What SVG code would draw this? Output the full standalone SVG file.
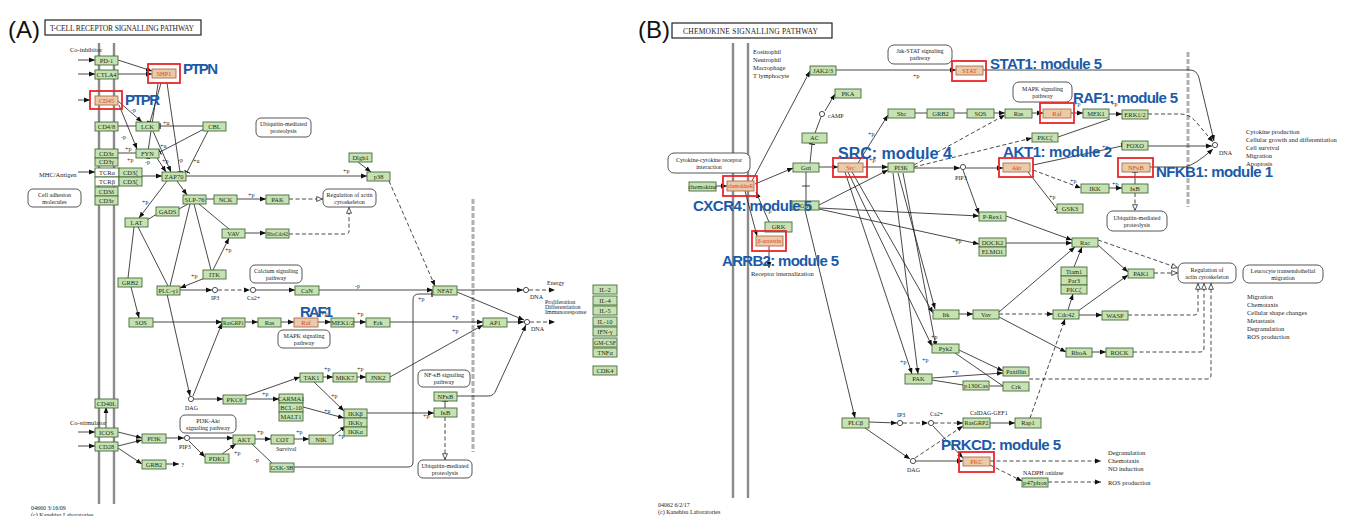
<svg xmlns="http://www.w3.org/2000/svg" width="1346" height="516" viewBox="0 0 1346 516">
<defs>
<style>
.n rect{fill:#c6e2b2;stroke:#466b3a;stroke-width:.9}
.n text{font-family:"Liberation Serif",serif;font-size:6.5px;fill:#1d2d14;text-anchor:middle}
.w rect{fill:#fff}
.hl rect.o{fill:none;stroke:#e8262a;stroke-width:1.8}
.hl rect.i{fill:#e8cba8;stroke:#b76b4a}
.hl text{fill:#e0441c}
.pw rect{fill:#fff;stroke:#444;stroke-width:.9}
.pw text{font-family:"Liberation Serif",serif;font-size:6px;fill:#222;text-anchor:middle}
.lb{font-family:"Liberation Sans",Arial,sans-serif;font-weight:bold;font-size:15px;fill:#1c5aa8}
.big{font-family:"Liberation Sans",Arial,sans-serif;font-size:24px;fill:#111}
.tx{font-family:"Liberation Serif",serif;font-size:6.5px;fill:#222}
.sm,.sm text{font-family:"Liberation Serif",serif;font-size:6px;fill:#222}
.ttl rect{fill:#fff;stroke:#222;stroke-width:1.2}
.ttl text{font-family:"Liberation Serif",serif;font-size:7.5px;fill:#222}
.e path{fill:none;stroke:#1a1a1a;stroke-width:.8}
.e .d{stroke-dasharray:4 2.5}
.e .a{marker-end:url(#ma)}
.e .o{marker-end:url(#mo)}
.e .t{marker-end:url(#mt)}
.mem{stroke:#8a8a8a;stroke-width:2.4}
.gd{stroke:#b0b0b0;stroke-width:3;stroke-dasharray:5 2}
.c{fill:#fff;stroke:#222;stroke-width:.8}
</style>
<marker id="ma" viewBox="0 0 10 10" refX="10" refY="5" markerWidth="6" markerHeight="6" orient="auto" markerUnits="userSpaceOnUse"><path d="M0,1L10,5L0,9z" fill="#111"/></marker>
<marker id="mo" viewBox="0 0 10 10" refX="10" refY="5" markerWidth="7" markerHeight="7" orient="auto" markerUnits="userSpaceOnUse"><path d="M1,1.5L9,5L1,8.5z" fill="#fff" stroke="#222" stroke-width="1.1"/></marker>
<marker id="mt" viewBox="0 0 4 10" refX="3" refY="5" markerWidth="2.4" markerHeight="7" orient="auto" markerUnits="userSpaceOnUse"><path d="M3,0V10" stroke="#111" stroke-width="2"/></marker>
</defs>
<rect width="1346" height="516" fill="#fff"/>

<!-- ================= PANEL A ================= -->
<text class="big" x="8" y="38">(A)</text>
<g class="ttl" id="titleA"><rect x="45" y="20" width="156" height="15"/><text x="50" y="31" textLength="144">T-CELL RECEPTOR SIGNALLING PATHWAY</text></g>
<line class="mem" x1="99" y1="43" x2="99" y2="504"/>
<line class="mem" x1="114" y1="43" x2="114" y2="504"/>
<line class="gd" x1="473" y1="199" x2="473" y2="452"/>

<text class="tx" x="70" y="52">Co-inhibitor</text>
<text class="tx" x="39" y="177">MHC/Antigen</text>
<text class="tx" x="70" y="425">Co-stimulator</text>
<text class="sm" x="211" y="300">IP3</text>
<text class="sm" x="247" y="300">Ca2+</text>
<text class="sm" x="185" y="410">DAG</text>
<text class="sm" x="179" y="449">PIP3</text>
<text class="sm" x="530" y="299">DNA</text>
<text class="sm" x="531" y="331">DNA</text>
<text class="sm" x="547" y="285">Energy</text>
<text class="sm" x="545" y="304">Proliferation</text>
<text class="sm" x="545" y="309">Differentiation</text>
<text class="sm" x="545" y="314">Immunoresponse</text>
<text class="sm" x="276" y="451">Survival</text>
<text class="tx" x="181" y="467">?</text>
<text class="sm" x="31" y="510">04660 3/16/09</text>
<text class="sm" x="31" y="517">(c) Kanehisa Laboratories</text>

<g class="sm" id="plabA">
<text x="131" y="112">-p</text><text x="121" y="139">-p</text><text x="163" y="125">+u</text><text x="160" y="148">+u</text>
<text x="193" y="163">+u</text><text x="178" y="162">-p</text><text x="162" y="163">+p</text><text x="125" y="151">+p</text>
<text x="127" y="162">+p</text><text x="145" y="164">-p</text><text x="343" y="173">+p</text><text x="142" y="204">+p</text>
<text x="248" y="197">+p</text><text x="225" y="252">+p</text><text x="191" y="278">+p</text><text x="355" y="288">-p</text>
<text x="321" y="316">+p</text><text x="357" y="316">+p</text><text x="452" y="319">+p</text><text x="452" y="333">+p</text>
<text x="418" y="301">+p</text><text x="262" y="396">+p</text><text x="324" y="371">+p</text><text x="357" y="371">+p</text>
<text x="331" y="398">+p</text><text x="324" y="413">+u</text><text x="338" y="438">+p</text><text x="423" y="418">+p</text>
<text x="234" y="455">+p</text><text x="257" y="434">+p</text><text x="296" y="434">+p</text><text x="254" y="462">-p</text>
</g>

<g class="e" id="edgesA">
<path class="a" d="M78,60H95"/><path class="a" d="M78,74H95"/><path class="a" d="M78,100H90"/>
<path class="a" d="M78,172H95"/><path class="a" d="M78,432H95"/><path class="a" d="M78,446H95"/>
<path class="a" d="M118,60L152,71"/><path class="a" d="M118,74H152"/>
<path class="a" d="M118,101L142,122"/><path class="a" d="M119,105L137,149"/>
<path d="M118,126H136"/>
<path class="t" d="M203,126H160"/><path class="t" d="M204,129L160,152"/><path class="t" d="M208,131L187,172"/>
<path class="t" d="M161,83L150,122"/><path class="t" d="M167,83L180,172"/><path class="t" d="M158,84L147,158"/>
<path class="a" d="M153,131L171,172"/><path d="M118,153H136"/>
<path class="a" d="M142,176H162"/><path class="a" d="M157,158L166,172"/>
<path class="a" d="M186,176H367"/><path class="a" d="M358,162L371,172"/>
<path class="a" d="M177,181L187,195"/><path class="a" d="M167,181L139,218"/>
<path d="M147,220L157,214"/><path d="M179,209L188,204"/>
<path d="M206,199H214"/><path class="a" d="M237,199H266"/>
<path class="d o" d="M289,199H323"/>
<path d="M199,204L229,229"/><path class="a" d="M245,233H266"/>
<path class="d o" d="M289,234H346Q349,234 349,231V207"/>
<path class="a" d="M213,270L229,238"/>
<path d="M194,204L211,270"/><path d="M190,204L170,286"/>
<path d="M138,227L168,286"/><path d="M134,227L128,278"/>
<path class="a" d="M205,278L180,288"/>
<path class="a" d="M180,290H212"/><path class="d a" d="M218,290H250"/><path class="a" d="M256,290H295"/>
<path class="a" d="M319,290H433"/>
<path class="a" d="M167,294L190,396"/><path class="a" d="M193,396L222,323"/>
<path class="a" d="M131,287L139,318"/><path class="a" d="M153,322H222"/>
<path class="a" d="M245,322H258"/><path class="a" d="M281,322H294"/><path class="a" d="M318,322H331"/><path class="a" d="M354,322H366"/>
<path class="a" d="M390,322H483"/><path class="a" d="M390,377L483,325"/>
<path class="d a" d="M389,181L435,286"/>
<path class="a" d="M457,290H523"/><path class="d a" d="M529,290H555"/>
<path class="a" d="M457,292L524,320"/><path class="a" d="M507,322H524"/>
<path class="a" d="M457,396H488Q494,396 496,390L526,325"/>
<path class="d a" d="M530,322H555"/>
<path class="t" d="M294,467H408Q413,467 413,462V300Q413,294 419,294H432"/>
<path class="a" d="M194,399H223"/>
<path class="a" d="M246,396L300,377"/><path class="a" d="M246,399H279"/>
<path class="a" d="M323,377H333"/><path class="a" d="M357,377H366"/>
<path class="a" d="M313,381L344,411"/><path class="a" d="M303,407L344,418"/><path class="a" d="M333,436L346,426"/>
<path class="a" d="M367,413H434"/>
<path class="t" d="M445,408V401"/>
<path class="d o" d="M445,417V460"/>
<path class="a" d="M106,428V407"/>
<path class="a" d="M118,432L142,438"/><path class="a" d="M118,446L142,440"/><path class="a" d="M118,448L142,464"/>
<path class="a" d="M166,464H179"/>
<path class="a" d="M166,438H184"/><path class="a" d="M190,438H233"/><path class="a" d="M189,441L205,457"/>
<path class="a" d="M222,454L236,444"/>
<path class="a" d="M255,439H271"/><path class="a" d="M294,439H309"/>
<path d="M252,444L272,463"/>
</g>

<circle class="c" cx="215" cy="290" r="2.6"/><circle class="c" cx="253" cy="290" r="2.6"/>
<circle class="c" cx="191" cy="399" r="2.6"/><circle class="c" cx="187" cy="438" r="2.6"/>
<circle class="c" cx="526" cy="290" r="2.6"/><circle class="c" cx="527" cy="322" r="2.6"/>

<g class="pw" id="pUbq1"><rect x="256" y="118" width="55" height="19" rx="5"/><text x="283.5" y="126">Ubiquitin-mediated</text><text x="283.5" y="133">proteolysis</text></g>
<g class="pw" id="pReg1"><rect x="323" y="189" width="53" height="18" rx="5"/><text x="349.5" y="197">Regulation of actin</text><text x="349.5" y="204">cytoskeleton</text></g>
<g class="pw" id="pCam"><rect x="28" y="189" width="53" height="18" rx="5"/><text x="54.5" y="197">Cell adhesion</text><text x="54.5" y="204">molecules</text></g>
<g class="pw" id="pCa"><rect x="250" y="265" width="52" height="18" rx="5"/><text x="276" y="273">Calcium signaling</text><text x="276" y="280">pathway</text></g>
<g class="pw" id="pMapk1"><rect x="278" y="330" width="52" height="18" rx="5"/><text x="304" y="338">MAPK signaling</text><text x="304" y="345">pathway</text></g>
<g class="pw" id="pPi3k"><rect x="180" y="415" width="56" height="18" rx="5"/><text x="208" y="423">PI3K-Akt</text><text x="208" y="430">signaling pathway</text></g>
<g class="pw" id="pNfkb"><rect x="418" y="370" width="52" height="17" rx="5"/><text x="444" y="377">NF-κB signaling</text><text x="444" y="384">pathway</text></g>
<g class="pw" id="pUbq2"><rect x="418" y="460" width="54" height="18" rx="5"/><text x="445" y="468">Ubiquitin-mediated</text><text x="445" y="475">proteolysis</text></g>

<g id="A_PD1" class="n"><rect x="95" y="56" width="23" height="9"/><text x="106.5" y="62.8">PD-1</text></g>
<g id="A_CTLA4" class="n"><rect x="95" y="70" width="23" height="9"/><text x="106.5" y="76.8">CTLA4</text></g>
<g id="A_SHP1" class="n hl"><rect class="o" x="148" y="64" width="32" height="19"/><rect class="i" x="152" y="69" width="24" height="9"/><text x="164" y="75.8">SHP1</text></g>
<g id="A_CD45" class="n hl"><rect class="o" x="90" y="91" width="32" height="18"/><rect class="i" x="95" y="96" width="23" height="9"/><text x="106.5" y="102.8">CD45</text></g>
<g id="A_CD48" class="n"><rect x="95" y="122" width="23" height="9"/><text x="106.5" y="128.8">CD4/8</text></g>
<g id="A_LCK" class="n"><rect x="136" y="122" width="23" height="9"/><text x="147.5" y="128.8">LCK</text></g>
<g id="A_CBL" class="n"><rect x="203" y="122" width="23" height="9"/><text x="214.5" y="128.8">CBL</text></g>
<g id="A_CD3e1" class="n"><rect x="95" y="149" width="23" height="9"/><text x="106.5" y="155.8">CD3ε</text></g>
<g id="A_CD3g" class="n"><rect x="95" y="158" width="23" height="8"/><text x="106.5" y="164.3">CD3γ</text></g>
<g id="A_FYN" class="n"><rect x="136" y="149" width="23" height="9"/><text x="147.5" y="155.8">FYN</text></g>
<g id="A_TCRa" class="n w"><rect x="95" y="168" width="24" height="9"/><text x="107" y="174.8">TCRα</text></g>
<g id="A_TCRb" class="n w"><rect x="95" y="177" width="24" height="9"/><text x="107" y="183.8">TCRβ</text></g>
<g id="A_CD3z1" class="n"><rect x="119" y="168" width="23" height="9"/><text x="130.5" y="174.8">CD3ζ</text></g>
<g id="A_CD3z2" class="n"><rect x="119" y="177" width="23" height="9"/><text x="130.5" y="183.8">CD3ζ</text></g>
<g id="A_ZAP70" class="n"><rect x="162" y="172" width="24" height="9"/><text x="174" y="178.8">ZAP70</text></g>
<g id="A_CD3d" class="n"><rect x="95" y="187" width="23" height="9"/><text x="106.5" y="193.8">CD3δ</text></g>
<g id="A_CD3e2" class="n"><rect x="95" y="196" width="23" height="9"/><text x="106.5" y="202.8">CD3ε</text></g>
<g id="A_SLP76" class="n"><rect x="183" y="195" width="23" height="9"/><text x="194.5" y="201.8">SLP-76</text></g>
<g id="A_NCK" class="n"><rect x="214" y="195" width="23" height="9"/><text x="225.5" y="201.8">NCK</text></g>
<g id="A_PAK" class="n"><rect x="266" y="195" width="23" height="9"/><text x="277.5" y="201.8">PAK</text></g>
<g id="A_GADS" class="n"><rect x="156" y="207" width="23" height="9"/><text x="167.5" y="213.8">GADS</text></g>
<g id="A_LAT" class="n"><rect x="125" y="218" width="23" height="9"/><text x="136.5" y="224.8">LAT</text></g>
<g id="A_DLGH1" class="n"><rect x="349" y="153" width="23" height="9"/><text x="360.5" y="159.8">Dlgh1</text></g>
<g id="A_P38" class="n"><rect x="367" y="172" width="23" height="9"/><text x="378.5" y="178.8">p38</text></g>
<g id="A_VAV" class="n"><rect x="222" y="229" width="23" height="9"/><text x="233.5" y="235.8">VAV</text></g>
<g id="A_RHO" class="n"><rect x="266" y="229" width="23" height="9"/><text x="277.5" y="235.8" textLength="21" lengthAdjust="spacingAndGlyphs">RhoCdc42</text></g>
<g id="A_ITK" class="n"><rect x="203" y="270" width="23" height="9"/><text x="214.5" y="276.8">ITK</text></g>
<g id="A_GRB2" class="n"><rect x="118" y="278" width="24" height="9"/><text x="130" y="284.8">GRB2</text></g>
<g id="A_PLCG" class="n"><rect x="157" y="286" width="23" height="9"/><text x="168.5" y="292.8">PLC-γ1</text></g>
<g id="A_CAN" class="n"><rect x="295" y="286" width="24" height="9"/><text x="307" y="292.8">CaN</text></g>
<g id="A_SOS" class="n"><rect x="129" y="318" width="24" height="9"/><text x="141" y="324.8">SOS</text></g>
<g id="A_RASGRP1" class="n"><rect x="222" y="318" width="23" height="9"/><text x="233.5" y="324.8" textLength="21" lengthAdjust="spacingAndGlyphs">RasGRP1</text></g>
<g id="A_RAS" class="n"><rect x="258" y="318" width="23" height="9"/><text x="269.5" y="324.8">Ras</text></g>
<g id="A_RAF" class="n hl"><rect class="i" x="294" y="318" width="24" height="9"/><text x="306" y="324.8">Raf</text></g>
<g id="A_MEK" class="n"><rect x="331" y="318" width="23" height="9"/><text x="342.5" y="324.8">MEK1/2</text></g>
<g id="A_ERK" class="n"><rect x="366" y="318" width="24" height="9"/><text x="378" y="324.8">Erk</text></g>
<g id="A_NFAT" class="n"><rect x="433" y="286" width="24" height="9"/><text x="445" y="292.8">NFAT</text></g>
<g id="A_AP1" class="n"><rect x="483" y="318" width="24" height="9"/><text x="495" y="324.8">AP1</text></g>
<g id="A_IL2" class="n"><rect x="593" y="285" width="24" height="9"/><text x="605" y="291.8">IL-2</text></g>
<g id="A_IL4" class="n"><rect x="593" y="296" width="24" height="9"/><text x="605" y="302.8">IL-4</text></g>
<g id="A_IL5" class="n"><rect x="593" y="306" width="24" height="9"/><text x="605" y="312.8">IL-5</text></g>
<g id="A_IL10" class="n"><rect x="593" y="317" width="24" height="9"/><text x="605" y="323.8">IL-10</text></g>
<g id="A_IFNG" class="n"><rect x="593" y="327" width="24" height="9"/><text x="605" y="333.8">IFN-γ</text></g>
<g id="A_GMCSF" class="n"><rect x="593" y="338" width="24" height="9"/><text x="605" y="344.8" textLength="22" lengthAdjust="spacingAndGlyphs">GM-CSF</text></g>
<g id="A_TNFA" class="n"><rect x="593" y="348" width="24" height="9"/><text x="605" y="354.8">TNFα</text></g>
<g id="A_CDK4" class="n"><rect x="593" y="366" width="24" height="9"/><text x="605" y="372.8">CDK4</text></g>
<g id="A_PKCT" class="n"><rect x="223" y="395" width="23" height="9"/><text x="234.5" y="401.8">PKCθ</text></g>
<g id="A_TAK1" class="n"><rect x="300" y="373" width="23" height="9"/><text x="311.5" y="379.8">TAK1</text></g>
<g id="A_MKK7" class="n"><rect x="333" y="373" width="24" height="9"/><text x="345" y="379.8">MKK7</text></g>
<g id="A_JNK2" class="n"><rect x="366" y="373" width="24" height="9"/><text x="378" y="379.8">JNK2</text></g>
<g id="A_CARMA1" class="n"><rect x="279" y="394" width="24" height="9"/><text x="291" y="400.8">CARMA1</text></g>
<g id="A_BCL10" class="n"><rect x="279" y="403" width="24" height="9"/><text x="291" y="409.8">BCL-10</text></g>
<g id="A_MALT1" class="n"><rect x="279" y="412" width="24" height="9"/><text x="291" y="418.8">MALT1</text></g>
<g id="A_IKKB" class="n"><rect x="344" y="409" width="23" height="9"/><text x="355.5" y="415.8">IKKβ</text></g>
<g id="A_IKKG" class="n"><rect x="344" y="418" width="23" height="9"/><text x="355.5" y="424.8">IKKγ</text></g>
<g id="A_IKKA" class="n"><rect x="344" y="427" width="23" height="9"/><text x="355.5" y="433.8">IKKα</text></g>
<g id="A_NFKB" class="n"><rect x="434" y="392" width="23" height="9"/><text x="445.5" y="398.8">NFκB</text></g>
<g id="A_IKB" class="n"><rect x="434" y="408" width="23" height="9"/><text x="445.5" y="414.8">IκB</text></g>
<g id="A_CD40L" class="n"><rect x="95" y="399" width="23" height="9"/><text x="106.5" y="405.8">CD40L</text></g>
<g id="A_ICOS" class="n"><rect x="95" y="428" width="23" height="9"/><text x="106.5" y="434.8">ICOS</text></g>
<g id="A_CD28" class="n"><rect x="95" y="442" width="23" height="9"/><text x="106.5" y="448.8">CD28</text></g>
<g id="A_PI3K" class="n"><rect x="142" y="434" width="24" height="9"/><text x="154" y="440.8">PI3K</text></g>
<g id="A_AKT" class="n"><rect x="233" y="435" width="22" height="9"/><text x="244" y="441.8">AKT</text></g>
<g id="A_PDK1" class="n"><rect x="205" y="454" width="24" height="9"/><text x="217" y="460.8">PDK1</text></g>
<g id="A_COT" class="n"><rect x="271" y="435" width="23" height="9"/><text x="282.5" y="441.8">COT</text></g>
<g id="A_NIK" class="n"><rect x="309" y="435" width="24" height="9"/><text x="321" y="441.8">NIK</text></g>
<g id="A_GSK3B" class="n"><rect x="270" y="463" width="24" height="9"/><text x="282" y="469.8">GSK-3B</text></g>
<g id="A_GRB2b" class="n"><rect x="142" y="460" width="24" height="9"/><text x="154" y="466.8">GRB2</text></g>

<text class="lb" x="183" y="74" textLength="35">PTPN</text>
<text class="lb" x="125" y="105" textLength="35">PTPR</text>
<text class="lb" x="300" y="317" textLength="33">RAF1</text>

<!-- ================= PANEL B ================= -->
<text class="big" x="638" y="38">(B)</text>
<g class="ttl" id="titleB"><rect x="672" y="23" width="160" height="15"/><text x="683" y="34" textLength="135">CHEMOKINE SIGNALLING PATHWAY</text></g>
<line class="mem" x1="733" y1="43" x2="733" y2="498"/>
<line class="mem" x1="748" y1="43" x2="748" y2="498"/>
<line class="gd" x1="1188" y1="52" x2="1188" y2="207"/>

<text class="tx" x="753" y="54">Eosinophil</text>
<text class="tx" x="753" y="62">Neutrophil</text>
<text class="tx" x="753" y="70">Macrophage</text>
<text class="tx" x="753" y="78">T lymphocyte</text>
<text class="sm" x="828" y="118">cAMP</text>
<text class="sm" x="955" y="180">PIP3</text>
<text class="sm" x="1219" y="155">DNA</text>
<text class="tx" x="1246" y="134">Cytokine production</text>
<text class="tx" x="1246" y="142">Cellular growth and differentiation</text>
<text class="tx" x="1246" y="150">Cell survival</text>
<text class="tx" x="1246" y="158">Migration</text>
<text class="tx" x="1246" y="166">Apoptosis</text>
<text class="tx" x="1247" y="299">Migration</text>
<text class="tx" x="1247" y="307">Chemotaxis</text>
<text class="tx" x="1247" y="315">Cellular shape changes</text>
<text class="tx" x="1247" y="323">Metastasis</text>
<text class="tx" x="1247" y="331">Degranulation</text>
<text class="tx" x="1247" y="339">ROS production</text>
<text class="tx" x="751" y="276">Receptor internalization</text>
<text class="sm" x="897" y="417">IP3</text>
<text class="sm" x="930" y="416">Ca2+</text>
<text class="sm" x="907" y="472">DAG</text>
<text class="sm" x="970" y="415">CalDAG-GEF1</text>
<text class="sm" x="1023" y="475">NADPH oxidase</text>
<text class="tx" x="1108" y="455">Degranulation</text>
<text class="tx" x="1108" y="463">Chemotaxis</text>
<text class="tx" x="1108" y="471">NO induction</text>
<text class="tx" x="1108" y="485">ROS production</text>
<text class="sm" x="658" y="507">04062 6/2/17</text>
<text class="sm" x="658" y="514">(c) Kanehisa Laboratories</text>

<g class="sm" id="plabB">
<text x="765" y="213">+p</text><text x="913" y="78">+p</text><text x="868" y="136">+p</text><text x="869" y="162">+p</text>
<text x="1074" y="106">+p</text><text x="1111" y="106">+p</text><text x="1102" y="149">+p</text><text x="1070" y="183">+p</text>
<text x="1049" y="199">+p</text><text x="1112" y="186">+p</text><text x="955" y="243">+p</text><text x="931" y="339">+p</text>
<text x="900" y="364">+p</text><text x="922" y="362">+p</text><text x="952" y="374">+p</text>
</g>

<g class="e" id="edgesB">
<path class="a" d="M716,186H727"/>
<path class="a" d="M752,181L810,71"/>
<path class="a" d="M755,184L793,168"/>
<path class="a" d="M769,222L756,192"/>
<path class="a" d="M745,191L757,236"/>
<path class="a" d="M769,246V268"/>
<path class="a" d="M836,70H956"/>
<path class="a" d="M983,70H1190Q1197,70 1199,78L1214,141"/>
<path class="t" d="M810,163L812,144"/>
<path d="M815,133L821,117"/><path class="a" d="M825,111L835,94"/>
<path class="a" d="M819,167H838"/>
<path d="M806,172V201"/><path d="M802,186H810"/>
<path class="a" d="M819,205L888,170"/>
<path class="a" d="M819,208L979,216"/>
<path class="a" d="M805,210L855,418"/>
<path class="a" d="M819,209L979,244"/>
<path class="a" d="M858,163L888,115"/>
<path class="a" d="M863,167H888"/>
<path class="a" d="M852,172L933,313"/><path class="a" d="M848,172L932,346"/><path class="a" d="M845,172L912,374"/>
<path class="a" d="M898,173L935,309"/><path class="a" d="M893,173L918,374"/><path class="a" d="M903,173L936,347"/>
<path class="a" d="M914,168H960"/><path class="a" d="M966,168H1003"/>
<path class="d a" d="M914,165L1005,115"/><path class="d a" d="M914,167L1032,138"/>
<path d="M915,113H927"/><path d="M954,113H967"/><path class="a" d="M994,113H1005"/>
<path class="a" d="M1032,113H1043"/><path class="a" d="M1071,113H1083"/><path class="a" d="M1109,114H1122"/>
<path class="d a" d="M1148,114H1180Q1190,114 1197,123L1213,142"/>
<path d="M1058,137L1110,119"/>
<path class="d a" d="M1033,170L1081,188"/>
<path class="t" d="M1028,172L1057,209"/>
<path class="t" d="M1033,165L1122,146"/>
<path class="a" d="M1148,146H1212"/>
<path class="a" d="M1150,167H1185Q1195,165 1213,149"/>
<path class="a" d="M1109,188H1122"/>
<path class="t" d="M1135,184V172"/>
<path class="d o" d="M1135,193V211"/>
<path class="a" d="M963,170L979,214"/>
<path class="a" d="M1006,216L1072,240"/>
<path class="a" d="M1006,243H1072"/>
<path class="a" d="M1098,245L1128,272"/>
<path class="a" d="M1074,267L1082,247"/>
<path class="d o" d="M1098,240L1178,268"/>
<path class="d o" d="M1154,273H1178"/>
<path class="a" d="M1068,310L1073,294"/>
<path class="a" d="M1078,311L1128,275"/>
<path class="a" d="M999,312L1075,247"/>
<path class="d a" d="M999,314H1053"/>
<path class="a" d="M999,317L1066,352"/>
<path class="a" d="M959,314H973"/>
<path class="a" d="M1079,315H1102"/>
<path class="d o" d="M1128,315H1194Q1198,315 1198,311V283"/>
<path class="a" d="M1092,352H1106"/>
<path class="d o" d="M1133,352H1200Q1204,352 1204,348V283"/>
<path class="d o" d="M1029,379H1207Q1211,379 1211,375V283"/>
<path class="a" d="M959,350L1003,371"/><path d="M955,353L1003,386"/>
<path class="a" d="M932,378L1003,373"/>
<path d="M932,380L963,385"/><path d="M989,386H1003"/>
<path class="a" d="M869,422L897,423"/>
<path class="d a" d="M903,423H928"/>
<path class="d a" d="M934,423H963"/>
<path class="a" d="M865,428L910,459"/>
<path class="d a" d="M915,458L963,426"/>
<path class="a" d="M916,461H963"/>
<path class="a" d="M933,426L963,458"/>
<path class="a" d="M990,423H1015"/>
<path class="d a" d="M1030,418L1065,319"/>
<path class="d a" d="M990,461H1101"/>
<path class="d a" d="M990,465L1022,481"/>
<path class="d a" d="M1048,482H1101"/>
</g>

<circle class="c" cx="822" cy="114" r="2.6"/><circle class="c" cx="963" cy="167" r="2.6"/>
<circle class="c" cx="1215" cy="145" r="2.6"/><circle class="c" cx="900" cy="423" r="2.6"/>
<circle class="c" cx="931" cy="423" r="2.6"/><circle class="c" cx="913" cy="461" r="2.6"/>

<g class="pw" id="pCyt"><rect x="668" y="153" width="82" height="20" rx="6"/><text x="709" y="162">Cytokine-cytokine receptor</text><text x="709" y="169">interaction</text></g>
<g class="pw" id="pJak"><rect x="888" y="45" width="64" height="19" rx="6"/><text x="920" y="53">Jak-STAT signaling</text><text x="920" y="60">pathway</text></g>
<g class="pw" id="pMapk2"><rect x="1013" y="82" width="59" height="20" rx="6"/><text x="1042.5" y="91">MAPK signaling</text><text x="1042.5" y="98">pathway</text></g>
<g class="pw" id="pUbq3"><rect x="1107" y="211" width="60" height="20" rx="6"/><text x="1137" y="220">Ubiquitin-mediated</text><text x="1137" y="227">proteolysis</text></g>
<g class="pw" id="pReg2"><rect x="1178" y="263" width="58" height="20" rx="6"/><text x="1207" y="272">Regulation of</text><text x="1207" y="279">actin cytoskeleton</text></g>
<g class="pw" id="pLeu"><rect x="1243" y="265" width="80" height="18" rx="6"/><text x="1283" y="273">Leucocyte transendothelial</text><text x="1283" y="280">migration</text></g>

<g id="B_JAK" class="n"><rect x="810" y="66" width="26" height="9"/><text x="823" y="72.8">JAK2/3</text></g>
<g id="B_PKA" class="n"><rect x="835" y="89" width="26" height="9"/><text x="848" y="95.8">PKA</text></g>
<g id="B_AC" class="n"><rect x="802" y="133" width="25" height="10"/><text x="814.5" y="140.3">AC</text></g>
<g id="B_GAI" class="n"><rect x="793" y="163" width="26" height="9"/><text x="806" y="169.8">Gαi</text></g>
<g id="B_SRC" class="n hl"><rect class="o" x="833" y="158" width="34" height="19"/><rect class="i" x="838" y="163" width="25" height="9"/><text x="850.5" y="169.8">Src</text></g>
<g id="B_CHEM" class="n"><rect x="689" y="182" width="27" height="9"/><text x="702.5" y="188.8">chemokine</text></g>
<g id="B_CXCR4" class="n hl"><rect class="o" x="723" y="176" width="34" height="20"/><rect class="i" x="727" y="181" width="27" height="10"/><text x="740.5" y="188.3" textLength="25" lengthAdjust="spacingAndGlyphs">chemokineR</text></g>
<g id="B_GBG" class="n"><rect x="792" y="201" width="27" height="9"/><text x="805.5" y="207.8">Gβγ</text></g>
<g id="B_GRK" class="n"><rect x="765" y="222" width="27" height="10"/><text x="778.5" y="229.3">GRK</text></g>
<g id="B_ARRB" class="n hl"><rect class="o" x="752" y="231" width="34" height="20"/><rect class="i" x="756" y="236" width="27" height="10"/><text x="769.5" y="243.3" textLength="24" lengthAdjust="spacingAndGlyphs">β-arrestin</text></g>
<g id="B_STAT" class="n hl"><rect class="o" x="952" y="61" width="34" height="20"/><rect class="i" x="956" y="66" width="27" height="9"/><text x="969.5" y="72.8">STAT</text></g>
<g id="B_SHC" class="n"><rect x="888" y="109" width="27" height="9"/><text x="901.5" y="115.8">Shc</text></g>
<g id="B_GRB2" class="n"><rect x="927" y="109" width="27" height="9"/><text x="940.5" y="115.8">GRB2</text></g>
<g id="B_SOS" class="n"><rect x="967" y="109" width="27" height="9"/><text x="980.5" y="115.8">SOS</text></g>
<g id="B_RAS" class="n"><rect x="1005" y="109" width="27" height="9"/><text x="1018.5" y="115.8">Ras</text></g>
<g id="B_RAF" class="n hl"><rect class="o" x="1040" y="103" width="34" height="20"/><rect class="i" x="1043" y="109" width="28" height="9"/><text x="1057" y="115.8">Raf</text></g>
<g id="B_MEK" class="n"><rect x="1083" y="109" width="26" height="9"/><text x="1096" y="115.8">MEK1</text></g>
<g id="B_ERK" class="n"><rect x="1122" y="110" width="26" height="9"/><text x="1135" y="116.8">ERK1/2</text></g>
<g id="B_PKCZ" class="n"><rect x="1032" y="133" width="26" height="9"/><text x="1045" y="139.8">PKCζ</text></g>
<g id="B_PI3K" class="n"><rect x="888" y="163" width="26" height="9"/><text x="901" y="169.8">PI3K</text></g>
<g id="B_AKT" class="n hl"><rect class="o" x="999" y="158" width="34" height="19"/><rect class="i" x="1003" y="163" width="27" height="9"/><text x="1016.5" y="169.8">Akt</text></g>
<g id="B_IKK" class="n"><rect x="1081" y="184" width="28" height="9"/><text x="1095" y="190.8">IKK</text></g>
<g id="B_GSK3" class="n"><rect x="1057" y="204" width="26" height="9"/><text x="1070" y="210.8">GSK3</text></g>
<g id="B_PREX" class="n"><rect x="979" y="212" width="27" height="9"/><text x="992.5" y="218.8">P-Rex1</text></g>
<g id="B_DOCK2" class="n"><rect x="979" y="238" width="27" height="9"/><text x="992.5" y="244.8">DOCK2</text></g>
<g id="B_ELMO1" class="n"><rect x="979" y="247" width="27" height="9"/><text x="992.5" y="253.8">ELMO1</text></g>
<g id="B_RAC" class="n"><rect x="1072" y="238" width="26" height="9"/><text x="1085" y="244.8">Rac</text></g>
<g id="B_FOXO" class="n"><rect x="1122" y="141" width="26" height="9"/><text x="1135" y="147.8">FOXO</text></g>
<g id="B_NFKB" class="n hl"><rect class="o" x="1118" y="158" width="35" height="19"/><rect class="i" x="1122" y="163" width="28" height="9"/><text x="1136" y="169.8">NFκB</text></g>
<g id="B_IKB" class="n"><rect x="1122" y="184" width="26" height="9"/><text x="1135" y="190.8">IκB</text></g>
<g id="B_TIAM" class="n"><rect x="1061" y="267" width="26" height="9"/><text x="1074" y="273.8">Tiam1</text></g>
<g id="B_PAR3" class="n"><rect x="1061" y="276" width="26" height="9"/><text x="1074" y="282.8">Par3</text></g>
<g id="B_PKCZ2" class="n"><rect x="1061" y="285" width="26" height="9"/><text x="1074" y="291.8">PKCζ</text></g>
<g id="B_PAK1" class="n"><rect x="1128" y="269" width="26" height="9"/><text x="1141" y="275.8">PAK1</text></g>
<g id="B_ITK" class="n"><rect x="933" y="310" width="26" height="9"/><text x="946" y="316.8">Itk</text></g>
<g id="B_VAV" class="n"><rect x="973" y="310" width="26" height="9"/><text x="986" y="316.8">Vav</text></g>
<g id="B_CDC42" class="n"><rect x="1053" y="310" width="26" height="9"/><text x="1066" y="316.8">Cdc42</text></g>
<g id="B_WASP" class="n"><rect x="1102" y="311" width="26" height="9"/><text x="1115" y="317.8">WASP</text></g>
<g id="B_PYK2" class="n"><rect x="932" y="344" width="27" height="9"/><text x="945.5" y="350.8">Pyk2</text></g>
<g id="B_RHOA" class="n"><rect x="1066" y="348" width="26" height="9"/><text x="1079" y="354.8">RhoA</text></g>
<g id="B_ROCK" class="n"><rect x="1106" y="348" width="27" height="9"/><text x="1119.5" y="354.8">ROCK</text></g>
<g id="B_PAK" class="n"><rect x="905" y="374" width="27" height="10"/><text x="918.5" y="381.3">PAK</text></g>
<g id="B_PAX" class="n"><rect x="1003" y="367" width="26" height="9"/><text x="1016" y="373.8">Paxillin</text></g>
<g id="B_P130" class="n"><rect x="963" y="381" width="26" height="9"/><text x="976" y="387.8" textLength="24" lengthAdjust="spacingAndGlyphs">p130Cas</text></g>
<g id="B_CRK" class="n"><rect x="1003" y="382" width="26" height="9"/><text x="1016" y="388.8">Crk</text></g>
<g id="B_PLCB" class="n"><rect x="842" y="418" width="27" height="10"/><text x="855.5" y="425.3">PLCβ</text></g>
<g id="B_RASGRP2" class="n"><rect x="963" y="418" width="27" height="10"/><text x="976.5" y="425.3" textLength="24" lengthAdjust="spacingAndGlyphs">RasGRP2</text></g>
<g id="B_RAP1" class="n"><rect x="1015" y="418" width="26" height="10"/><text x="1028" y="425.3">Rap1</text></g>
<g id="B_PKC" class="n hl"><rect class="o" x="959" y="452" width="35" height="20"/><rect class="i" x="963" y="457" width="27" height="9"/><text x="976.5" y="463.8">PKC</text></g>
<g id="B_P47" class="n"><rect x="1022" y="478" width="26" height="9"/><text x="1035" y="484.8" textLength="24" lengthAdjust="spacingAndGlyphs">p47phox</text></g>

<text class="lb" x="990" y="69" textLength="112">STAT1: module 5</text>
<text class="lb" x="1073" y="103" textLength="105">RAF1: module 5</text>
<text class="lb" x="838" y="159" style="font-size:16px">SRC: module 4</text>
<text class="lb" x="1003" y="157" textLength="109">AKT1: module 2</text>
<text class="lb" x="1156" y="177" textLength="117">NFKB1: module 1</text>
<text class="lb" x="693" y="211" textLength="119">CXCR4: module 5</text>
<text class="lb" x="722" y="266" textLength="117">ARRB2: module 5</text>
<text class="lb" x="941" y="450" textLength="120">PRKCD: module 5</text>
</svg>
